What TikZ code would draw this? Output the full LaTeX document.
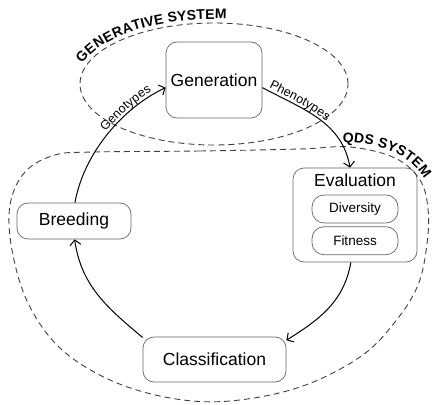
\documentclass[tikz,border=0pt]{standalone}
\usepackage{fontspec}
\setmainfont{Liberation Sans}
\usetikzlibrary{arrows.meta,positioning,decorations.text}

\begin{document}
\begin{tikzpicture}[x=1pt,y=1pt,
        box/.style={draw=black!60, line width=0.7pt, rounded corners=11pt, inner sep=0pt, font=\fontsize{17.5}{20}\selectfont},
        title/.style={inner sep=0pt, font=\fontsize{17.5}{20}\selectfont},
        pill/.style={draw=black!60, line width=0.7pt, rounded corners=12pt, minimum width=86pt, minimum height=28pt, inner sep=0pt, font=\fontsize{13.5}{16}\selectfont},
        flow/.style={line width=1pt, -{Straight Barb[length=5pt,width=11pt]}},
        sys/.style={draw=black!75, line width=0.9pt, dash pattern=on 6pt off 4pt}]
        \useasboundingbox (0,0) rectangle (435,404);
        \node[box, minimum width=96pt, minimum height=76pt] (gen) at (214,324) {Generation};
        \node[box, minimum width=124pt, minimum height=94pt] (eval) at (355,189) {};
        \node[title] (evaltitle) at (355,224) {Evaluation};
        \node[pill] (div) at (355,195) {Diversity};
        \node[pill, below=3pt of div] (fit) {Fitness};
        \node[box, minimum width=114pt, minimum height=36pt] (breed) at (74,183) {Breeding};
        \node[box, minimum width=143pt, minimum height=45pt] (class) at (214.5,44.5) {Classification};
        \draw[sys] (214,320) ellipse [x radius=134, y radius=61];
        \draw[sys] plot[smooth cycle, tension=0.6] coordinates {(95,252) (200,253) (300,255) (350,257) (395,246) (420,224) (428,195) (427,160) (418,119) (395,82) (360,47) (300,17) (230,3) (170,6) (110,24) (60,56) (28,101) (12,154) (10,199) (25,232) (55,249)};
        \path[decorate, decoration={text along path, text align=center, raise=4pt, text={|\bfseries\fontsize{14}{14}\selectfont|GENERATIVE SYSTEM}}] (214,320) ++(169:134 and 61) arc [start angle=169, end angle=82, x radius=134, y radius=61];
        \path[decorate, decoration={text along path, text align=center, raise=2pt, text={|\bfseries\fontsize{14}{14}\selectfont|QDS SYSTEM}}] (336,260) .. controls (383,260) and (412,246) .. (426,218);
        \draw[flow, postaction={decorate, arrows=-, decoration={text along path, text align={right, right indent=14pt}, raise=3pt, text={|\fontsize{12.5}{12}\selectfont|Genotypes}}}] (breed.87) to[out=80, in=205, looseness=0.85] (gen.189);
        \draw[flow, postaction={decorate, arrows=-, decoration={text along path, text align={left, left indent=6pt}, raise=3pt, text={|\fontsize{12.5}{12}\selectfont|Phenotypes}}}] (gen.-9) to[out=-28, in=100] (eval.96);
        \draw[flow] (eval.-95) to[out=-100, in=32] (class.15);
        \draw[flow] (class.163) to[out=140, in=-82] (breed.-88);
\end{tikzpicture}
\end{document}
